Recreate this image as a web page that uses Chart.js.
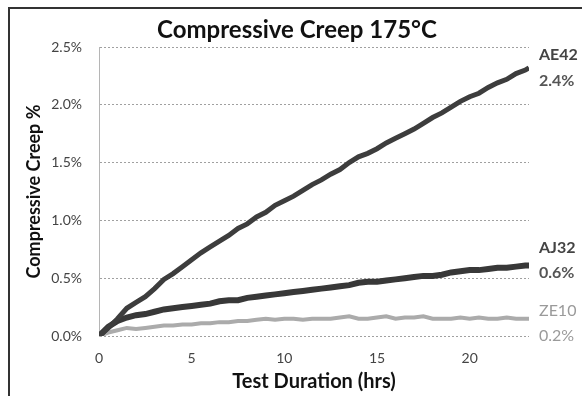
<!DOCTYPE html>
<html>
<head>
<meta charset="utf-8">
<script src="https://cdn.jsdelivr.net/npm/chart.js@4/dist/chart.umd.min.js"></script>
<style>
  html, body { margin: 0; padding: 0; background: #fff; }
  #wrap { width: 582px; height: 396px; }
</style>
</head>
<body>
<div id="wrap"><canvas id="creep-chart" width="582" height="396"></canvas></div>
<script>
/* data (creep in %, time in hrs) */
var hours = [0,0.5,1,1.5,2,2.5,3,3.5,4,4.5,5,5.5,6,6.5,7,7.5,8,8.5,9,9.5,10,10.5,11,11.5,12,12.5,13,13.5,14,14.5,15,15.5,16,16.5,17,17.5,18,18.5,19,19.5,20,20.5,21,21.5,22,22.5,23,23.2];
var ae42 = [0.00,0.07,0.15,0.24,0.29,0.34,0.41,0.49,0.54,0.60,0.66,0.72,0.77,0.82,0.87,0.93,0.97,1.03,1.07,1.13,1.17,1.21,1.26,1.31,1.35,1.40,1.44,1.50,1.55,1.58,1.62,1.67,1.71,1.75,1.79,1.84,1.89,1.93,1.98,2.03,2.07,2.10,2.15,2.19,2.22,2.27,2.30,2.32];
var aj32 = [0.00,0.08,0.13,0.16,0.18,0.19,0.21,0.23,0.24,0.25,0.26,0.27,0.28,0.30,0.31,0.31,0.33,0.34,0.35,0.36,0.37,0.38,0.39,0.40,0.41,0.42,0.43,0.44,0.46,0.47,0.47,0.48,0.49,0.50,0.51,0.52,0.52,0.53,0.55,0.56,0.57,0.57,0.58,0.59,0.59,0.60,0.61,0.61];
var ze10 = [0.00,0.03,0.05,0.07,0.06,0.07,0.08,0.09,0.09,0.10,0.10,0.11,0.11,0.12,0.12,0.13,0.13,0.14,0.15,0.14,0.15,0.15,0.14,0.15,0.15,0.15,0.16,0.17,0.15,0.15,0.16,0.17,0.15,0.16,0.16,0.17,0.15,0.15,0.15,0.16,0.15,0.16,0.15,0.15,0.16,0.15,0.15,0.15];

var seriesNames = ['AE42', 'AJ32', 'ZE10'];
var seriesColors = ['#3d3d3d', '#383838', '#ababab'];
var labelColors = ['#444444', '#444444', '#9a9a9a'];
var endLabels = ['2.4%', '0.6%', '0.2%'];
/* where the right-hand labels sit, in % units */
var nameAt = [2.43, 0.76, 0.22];
var valueAt = [2.21, 0.55, 0.00];

var yTicks = [0, 0.5, 1.0, 1.5, 2.0, 2.5];
var xTicks = [0, 5, 10, 15, 20];
var chartTitle = 'Compressive Creep 175\u00B0C';

function toPoints(vals){
    var pts = [];
    for(var i = 0; i < hours.length; i++){
        pts.push({x: hours[i], y: vals[i]});
    }
    return pts;
}

var allSeries = [ae42, aj32, ze10];
var widths = [5, 6, 4];
var datasets = [];
for(var i = 0; i < allSeries.length; i++){
    datasets.push({
        label: seriesNames[i],
        data: toPoints(allSeries[i]),
        borderColor: seriesColors[i],
        borderWidth: widths[i],
        pointRadius: 0,
        tension: 0,
        fill: false
    });
}

/* frame round the picture, white background, title */
var framePlugin = {
    id: 'frame',
    beforeDraw: function(chart){
        var ctx = chart.ctx;
        ctx.save();
        ctx.fillStyle = '#fff';
        ctx.fillRect(0, 0, chart.width, chart.height);
        ctx.strokeStyle = '#333';
        ctx.lineWidth = 2;
        ctx.beginPath();
        ctx.moveTo(9, chart.height);
        ctx.lineTo(9, 8);
        ctx.lineTo(chart.width, 8);
        ctx.stroke();
        ctx.fillStyle = '#111';
        ctx.font = 'bold 24px Lato';
        ctx.textAlign = 'center';
        ctx.textBaseline = 'alphabetic';
        ctx.fillText(chartTitle, chart.width / 2 + 6, 38);
        ctx.restore();
    }
};

/* series names and final values to the right of the plot */
var endLabelPlugin = {
    id: 'endLabels',
    afterDatasetsDraw: function(chart){
        var ctx = chart.ctx;
        var yScale = chart.scales.y;
        var x = chart.chartArea.right + 10;
        ctx.save();
        ctx.textAlign = 'left';
        ctx.textBaseline = 'middle';
        for(var i = 0; i < seriesNames.length; i++){
            ctx.fillStyle = labelColors[i];
            ctx.font = (i < 2 ? 'bold ' : '') + '16px Lato';
            ctx.fillText(seriesNames[i], x, yScale.getPixelForValue(nameAt[i]));
            ctx.fillStyle = i < 2 ? '#555' : labelColors[i];
            ctx.fillText(endLabels[i], x, yScale.getPixelForValue(valueAt[i]));
        }
        ctx.restore();
    }
};

var ctx = document.getElementById('creep-chart');
var chart = new Chart(ctx, {
    type: 'line',
    data: { datasets: datasets },
    plugins: [framePlugin, endLabelPlugin],
    options: {
        responsive: false,
        animation: false,
        layout: { padding: { left: 14, right: 53, top: 47, bottom: 0 } },
        plugins: {
            legend: { display: false },
            tooltip: { enabled: false },
            title: { display: false }
        },
        scales: {
            x: {
                type: 'linear',
                min: 0,
                max: 23.2,
                afterFit: function(scale){ scale.height = 60; },
                afterBuildTicks: function(scale){
                    scale.ticks = xTicks.map(function(v){ return {value: v}; });
                },
                grid: { display: false, drawTicks: false },
                border: { display: false },
                ticks: {
                    padding: 14,
                    color: '#444',
                    font: { family: 'Lato', size: 14 },
                    callback: function(v){ return v; }
                },
                title: {
                    display: true,
                    text: 'Test Duration (hrs)',
                    color: '#111',
                    font: { family: 'Lato', size: 20, weight: 'bold' },
                    padding: { top: 0, bottom: 2 }
                }
            },
            y: {
                min: 0,
                max: 2.5,
                afterFit: function(scale){ scale.width = 85; },
                afterBuildTicks: function(scale){
                    scale.ticks = yTicks.map(function(v){ return {value: v}; });
                },
                grid: {
                    color: '#a0a0a0',
                    lineWidth: 1,
                    drawTicks: false
                },
                border: { display: true, color: '#b5b5b5', dash: [2, 2] },
                ticks: {
                    padding: 17,
                    color: '#444',
                    font: { family: 'Lato', size: 14 },
                    callback: function(v){ return v.toFixed(1) + '%'; }
                },
                title: {
                    display: true,
                    text: 'Compressive Creep %',
                    color: '#111',
                    font: { family: 'Lato', size: 18, weight: 'bold' },
                    padding: { top: 9, bottom: 0 }
                }
            }
        }
    }
});
</script>
</body>
</html>
